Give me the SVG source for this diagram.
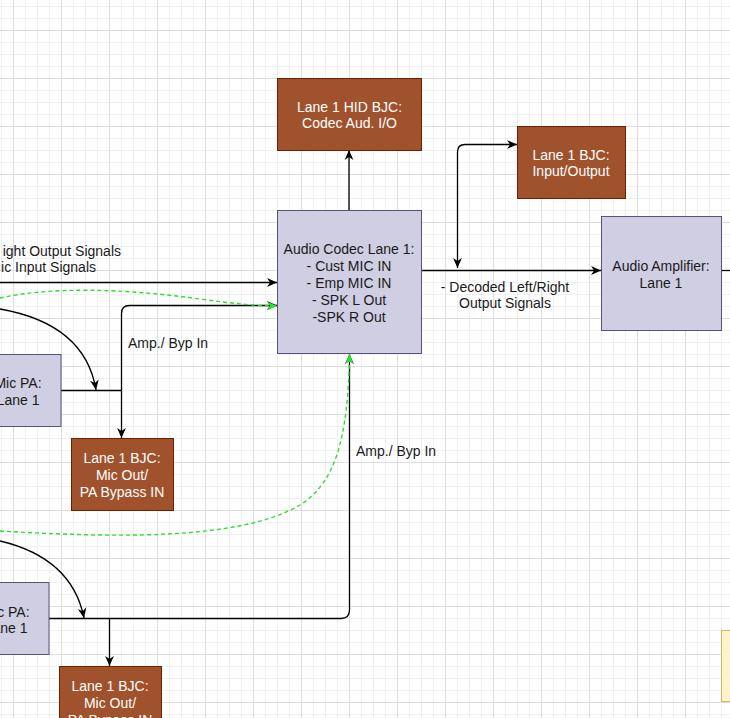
<svg xmlns="http://www.w3.org/2000/svg" width="730" height="718" viewBox="0 0 730 718">
<defs>
<pattern id="minor" x="1" y="6" width="12" height="12" patternUnits="userSpaceOnUse"><path d="M0.5 0 V12 M0 0.5 H12" fill="none" stroke="#f0f0f0" stroke-width="1"/></pattern>
<pattern id="major" x="13" y="30" width="48" height="48" patternUnits="userSpaceOnUse"><path d="M0.5 0 V48 M0 0.5 H48" fill="none" stroke="#dedede" stroke-width="1"/></pattern>
<marker id="ab" viewBox="0 0 10 10" refX="10" refY="5" markerWidth="10" markerHeight="10" markerUnits="userSpaceOnUse" orient="auto-start-reverse"><path d="M0 0.6 L10 5 L0 9.4 L3 5 Z" fill="#000"/></marker>
<marker id="ag" viewBox="0 0 10 10" refX="10" refY="5" markerWidth="10" markerHeight="10" markerUnits="userSpaceOnUse" orient="auto"><path d="M0 0.6 L10 5 L0 9.4 L3 5 Z" fill="#2ee02e"/></marker>
</defs>
<style>
.t{font-family:"Liberation Sans",Arial,sans-serif;font-size:14px;fill:#1a1a1a}
.c{text-anchor:middle}
.w{fill:#ffffff}
.brown{fill:#a0522d;stroke:#6d1f00;stroke-width:1}
.purple{fill:#d0cee2;stroke:#56517e;stroke-width:1}
.e{fill:none;stroke:#000;stroke-width:1.3}
.eb{marker-end:url(#ab)}
.g{fill:none;stroke:#2ee02e;stroke-width:1.4;stroke-dasharray:4 3;marker-end:url(#ag)}
</style>
<rect width="730" height="718" fill="#fff"/>
<rect width="730" height="718" fill="url(#minor)"/>
<rect width="730" height="718" fill="url(#major)"/>

<g id="connectors">
<path class="e eb" d="M0 282.5 H277"/>
<path class="e eb" d="M349 210 V150"/>
<path class="e eb" d="M421 270.5 H601"/>
<path class="e" d="M721 270.5 H730"/>
<path class="e" d="M457.5 268 V152 Q457.5 144.5 465 144.5 H517" marker-start="url(#ab)" marker-end="url(#ab)"/>
<path class="e" d="M61 390.5 H121.5"/>
<path class="e eb" d="M121.5 390.5 V313.5 Q121.5 305.5 129.5 305.5 H277"/>
<path class="e eb" d="M121.5 390.5 V438"/>
<path class="e eb" d="M0 309 Q85 324 96 390"/>
<path class="g" d="M0 298 C50 287, 120 288, 200 299 C230 303, 255 306, 277 306"/>
<path class="e eb" d="M49 618.5 H341 Q349.5 618.5 349.5 610 V354"/>
<path class="e eb" d="M109.5 618.5 V666"/>
<path class="e eb" d="M0 541 Q72 558 84 618"/>
<path class="g" d="M0 531 C120 538, 240 540, 300 505 C335 483, 348 440, 349.5 354"/>
<text class="t" x="121" y="256" text-anchor="end">ight Output Signals</text>
<text class="t" x="96" y="272" text-anchor="end">ic Input Signals</text>
<text class="t" x="128" y="348">Amp./ Byp In</text>
<text class="t" x="356" y="456">Amp./ Byp In</text>
<text class="t c" x="505" y="292">- Decoded Left/Right</text>
<text class="t c" x="505" y="308">Output Signals</text>
</g>

<g id="hid-bjc">
<rect class="brown" x="277.5" y="78.5" width="144" height="72"/>
<text class="t c w" x="349.5" y="112">Lane 1 HID BJC:</text>
<text class="t c w" x="349.5" y="128">Codec Aud. I/O</text>
</g>

<g id="codec">
<rect class="purple" x="277.5" y="210.5" width="144" height="143"/>
<text class="t c" x="349" y="254">Audio Codec Lane 1:</text>
<text class="t c" x="349" y="271">- Cust MIC IN</text>
<text class="t c" x="349" y="288">- Emp MIC IN</text>
<text class="t c" x="349" y="305">- SPK L Out</text>
<text class="t c" x="349" y="322">-SPK R Out</text>
</g>

<g id="io-bjc">
<rect class="brown" x="517.5" y="126.5" width="108" height="72"/>
<text class="t c w" x="571" y="160">Lane 1 BJC:</text>
<text class="t c w" x="571" y="176">Input/Output</text>
</g>

<g id="amplifier">
<rect class="purple" x="601.5" y="216.5" width="120" height="114"/>
<text class="t c" x="661" y="271">Audio Amplifier:</text>
<text class="t c" x="661" y="288">Lane 1</text>
</g>

<g id="mic-pa-1">
<rect class="purple" x="-25" y="354.5" width="86" height="72"/>
<text class="t c" x="18" y="388">Mic PA:</text>
<text class="t c" x="18" y="405">Lane 1</text>
</g>

<g id="mic-bjc-1">
<rect class="brown" x="71.5" y="438.5" width="102" height="72"/>
<text class="t c w" x="122" y="463">Lane 1 BJC:</text>
<text class="t c w" x="122" y="480">Mic Out/</text>
<text class="t c w" x="122" y="497">PA Bypass IN</text>
</g>

<g id="mic-pa-2">
<rect class="purple" x="-37" y="582.5" width="86" height="72"/>
<text class="t c" x="6" y="617">Mic PA:</text>
<text class="t c" x="6" y="633">Lane 1</text>
</g>

<g id="mic-bjc-2">
<rect class="brown" x="59.5" y="666.5" width="102" height="72"/>
<text class="t c w" x="110" y="691">Lane 1 BJC:</text>
<text class="t c w" x="110" y="708">Mic Out/</text>
<text class="t c w" x="110" y="725">PA Bypass IN</text>
</g>

<g id="note">
<rect x="721.5" y="630.5" width="20" height="71" fill="#fff2cc" stroke="#d6b656"/>
</g>
</svg>
